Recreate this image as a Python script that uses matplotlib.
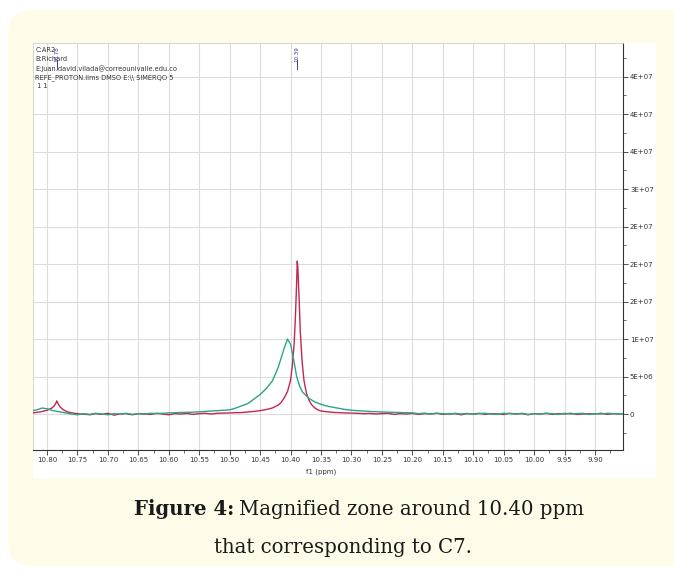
"""Magnified 1H NMR zone around 10.40 ppm (two overlaid spectra)."""
import matplotlib

matplotlib.use("Agg")

import matplotlib.pyplot as plt
import matplotlib.transforms as mtransforms
from matplotlib.patches import FancyBboxPatch, Rectangle
from matplotlib.ticker import MultipleLocator

# chemical shift (ppm) and intensity (x 1e6)
red_ppm = [10.823, 10.81, 10.80, 10.792, 10.788, 10.785, 10.784, 10.782, 10.778, 10.772,
           10.765, 10.755, 10.745, 10.74, 10.73, 10.72, 10.71, 10.70, 10.69, 10.68,
           10.67, 10.66, 10.65, 10.64, 10.63, 10.62, 10.61, 10.60, 10.59, 10.58,
           10.57, 10.56, 10.55, 10.54, 10.53, 10.52, 10.51, 10.50, 10.48, 10.46,
           10.45, 10.44, 10.43, 10.42, 10.415, 10.41, 10.405, 10.40, 10.397, 10.394,
           10.392, 10.390, 10.389, 10.388, 10.386, 10.384, 10.381, 10.378, 10.374, 10.370,
           10.366, 10.36, 10.355, 10.35, 10.34, 10.33, 10.32, 10.30, 10.29, 10.28,
           10.27, 10.26, 10.25, 10.24, 10.23, 10.22, 10.21, 10.20, 10.19, 10.18,
           10.17, 10.16, 10.15, 10.14, 10.13, 10.12, 10.11, 10.10, 10.09, 10.08,
           10.07, 10.06, 10.05, 10.04, 10.03, 10.02, 10.01, 10.00, 9.99, 9.98,
           9.97, 9.96, 9.95, 9.94, 9.93, 9.92, 9.91, 9.90, 9.89, 9.88,
           9.87, 9.86, 9.854]
red_int = [0.15, 0.3, 0.5, 0.8, 1.1, 1.5, 1.75, 1.4, 0.9, 0.5,
           0.25, 0.1, 0.0, 0.0, -0.1, 0.05, -0.05, 0.1, -0.15, 0.0,
           0.05, -0.1, 0.05, 0.0, -0.05, 0.1, 0.0, -0.1, 0.05, 0.0,
           0.08, -0.05, 0.05, 0.1, 0.0, 0.1, 0.12, 0.15, 0.2, 0.35,
           0.45, 0.6, 0.8, 1.2, 1.6, 2.2, 3.0, 4.5, 6.5, 9.5,
           13.0, 17.5, 20.4, 19.5, 15.5, 11.0, 7.0, 4.5, 2.8, 1.9,
           1.3, 0.8, 0.55, 0.4, 0.3, 0.22, 0.18, 0.12, 0.1, 0.05,
           0.08, 0.0, 0.05, 0.1, -0.05, 0.05, 0.0, 0.08, -0.05, 0.05,
           0.0, 0.1, -0.05, 0.0, 0.05, -0.1, 0.05, 0.0, 0.1, -0.05,
           0.05, 0.0, -0.05, 0.1, 0.0, 0.05, -0.1, 0.05, 0.0, 0.08,
           -0.05, 0.05, 0.0, 0.1, -0.05, 0.0, 0.05, 0.0, 0.1, -0.05,
           0.05, 0.0, 0.05]

green_ppm = [10.823, 10.815, 10.808, 10.80, 10.79, 10.78, 10.77, 10.76, 10.75, 10.74,
             10.73, 10.72, 10.71, 10.70, 10.69, 10.68, 10.67, 10.66, 10.65, 10.64,
             10.63, 10.62, 10.60, 10.58, 10.56, 10.54, 10.52, 10.50, 10.49, 10.48,
             10.47, 10.46, 10.45, 10.44, 10.43, 10.425, 10.42, 10.415, 10.41, 10.405,
             10.40, 10.395, 10.39, 10.385, 10.38, 10.37, 10.36, 10.35, 10.34, 10.33,
             10.32, 10.31, 10.30, 10.28, 10.26, 10.24, 10.22, 10.20, 10.19, 10.18,
             10.17, 10.16, 10.15, 10.14, 10.13, 10.12, 10.11, 10.10, 10.09, 10.08,
             10.07, 10.06, 10.05, 10.04, 10.03, 10.02, 10.01, 10.00, 9.99, 9.98,
             9.97, 9.96, 9.95, 9.94, 9.93, 9.92, 9.91, 9.90, 9.89, 9.88,
             9.87, 9.86, 9.854]
green_int = [0.45, 0.6, 0.8, 0.7, 0.45, 0.3, 0.15, 0.0, -0.1, 0.05,
             -0.05, 0.1, 0.0, -0.1, 0.05, 0.0, 0.1, -0.05, 0.05, 0.0,
             0.1, 0.05, 0.15, 0.2, 0.25, 0.35, 0.45, 0.55, 0.8, 1.1,
             1.4, 2.0, 2.6, 3.4, 4.4, 5.3, 6.3, 7.6, 8.9, 10.0,
             9.3, 7.3, 5.0, 3.7, 2.9, 2.1, 1.6, 1.3, 1.05, 0.9,
             0.75, 0.6, 0.5, 0.4, 0.3, 0.25, 0.2, 0.15, 0.05, 0.12,
             0.0, 0.1, 0.05, -0.05, 0.1, 0.0, 0.08, -0.05, 0.05, 0.1,
             0.0, -0.05, 0.1, 0.05, 0.0, 0.1, -0.05, 0.05, 0.0, 0.1,
             0.05, -0.05, 0.1, 0.0, 0.05, 0.1, -0.05, 0.05, 0.0, 0.1,
             0.05, 0.0, 0.05]

peak_labels = ["10.78", "10.39"]
peak_ppm = [10.784, 10.389]

x_ticks = [10.80, 10.75, 10.70, 10.65, 10.60, 10.55, 10.50, 10.45, 10.40, 10.35,
           10.30, 10.25, 10.20, 10.15, 10.10, 10.05, 10.00, 9.95, 9.90]
x_tick_labels = ["10.80", "10.75", "10.70", "10.65", "10.60", "10.55", "10.50", "10.45", "10.40", "10.35",
                 "10.30", "10.25", "10.20", "10.15", "10.10", "10.05", "10.00", "9.95", "9.90"]
y_ticks = [0, 5e6, 10e6, 15e6, 20e6, 25e6, 30e6, 35e6, 40e6, 45e6]
y_tick_labels = ["0", "5E+06", "1E+07", "2E+07", "2E+07", "2E+07", "3E+07", "4E+07", "4E+07", "4E+07"]

header_lines = ["C:AR2", "B:Richard", "E:juan.david.vilada@correounivalle.edu.co",
                "REFE_PROTON.lims DMSO E:\\\\ SIMERQO 5", " 1 1"]

W, H = 674, 570
fig = plt.figure(figsize=(W / 100, H / 100), dpi=100, facecolor="white")

# cream rounded card and white chart panel
card = FancyBboxPatch((8 / W, 1 - 566 / H), 700 / W, 556 / H,
                      boxstyle="round,pad=0,rounding_size=0.04",
                      transform=fig.transFigure, facecolor="#fefbe8", edgecolor="none", zorder=0)
fig.patches.append(card)
panel = Rectangle((33 / W, 1 - 478 / H), 623 / W, 435 / H, transform=fig.transFigure,
                  facecolor="white", edgecolor="none", zorder=1)
fig.patches.append(panel)

ax = fig.add_axes([33 / W, 1 - 450 / H, 590 / W, 407 / H])
ax.set_facecolor("white")
ax.set_zorder(2)

ax.plot(red_ppm, [v * 1e6 for v in red_int], color="#c3274f", linewidth=1.0, zorder=3)
ax.plot(green_ppm, [v * 1e6 for v in green_int], color="#2ba585", linewidth=1.0, zorder=4)

ax.set_xlim(10.823, 9.854)
ax.set_ylim(-4.8e6, 49.5e6)

ax.set_xticks(x_ticks)
ax.set_xticklabels(x_tick_labels)
ax.xaxis.set_minor_locator(MultipleLocator(0.025))
ax.yaxis.tick_right()
ax.set_yticks(y_ticks)
ax.set_yticklabels(y_tick_labels)
ax.yaxis.set_minor_locator(MultipleLocator(2.5e6))
ax.tick_params(axis="both", which="major", labelsize=5, length=3.5, width=0.6,
               colors="#333333", pad=1.5)
ax.tick_params(axis="both", which="minor", length=2, width=0.5, colors="#333333")
ax.set_xlabel("f1 (ppm)", fontsize=5, color="#333333", labelpad=0)
ax.xaxis.set_label_coords(10.35, -0.045, transform=mtransforms.blended_transform_factory(ax.transData, ax.transAxes))

ax.grid(True, which="major", color="#dcdcdc", linewidth=0.8)
ax.set_axisbelow(True)
for side in ("top", "left"):
    ax.spines[side].set_color("#cfcfcf")
    ax.spines[side].set_linewidth(0.6)
for side in ("right", "bottom"):
    ax.spines[side].set_color("#333333")
    ax.spines[side].set_linewidth(0.8)

# peak picking labels
trans = mtransforms.blended_transform_factory(ax.transData, ax.transAxes)
for label, ppm in zip(peak_labels, peak_ppm):
    ax.text(ppm, 0.993, label, transform=trans, rotation=90, ha="center", va="top",
            fontsize=4, color="#3a3a8c", zorder=6)
    ax.plot([ppm, ppm], [0.958, 0.937], transform=trans, color="#3a3a8c", linewidth=0.7, zorder=6)

for i, line in enumerate(header_lines):
    ax.text(0.004, 0.99 - i * 0.022, line, transform=ax.transAxes, ha="left", va="top",
            fontsize=4.8, color="#333333", zorder=5)

# caption
renderer = fig.canvas.get_renderer()
bold = fig.text(134 / W, 1 - 515 / H, "Figure 4:", fontsize=14.2, fontweight="bold",
                family="DejaVu Serif", ha="left", va="baseline", color="#1a1a1a")
bb = bold.get_window_extent(renderer)
fig.text((bb.x1 + 5) / W, 1 - 515 / H, "Magnified zone around 10.40 ppm", fontsize=14.2,
         family="DejaVu Serif", ha="left", va="baseline", color="#1a1a1a")
fig.text(343 / W, 1 - 553 / H, "that corresponding to C7.", fontsize=14.2,
         family="DejaVu Serif", ha="center", va="baseline", color="#1a1a1a")

fig.savefig("out.png", dpi=100, facecolor="white")
